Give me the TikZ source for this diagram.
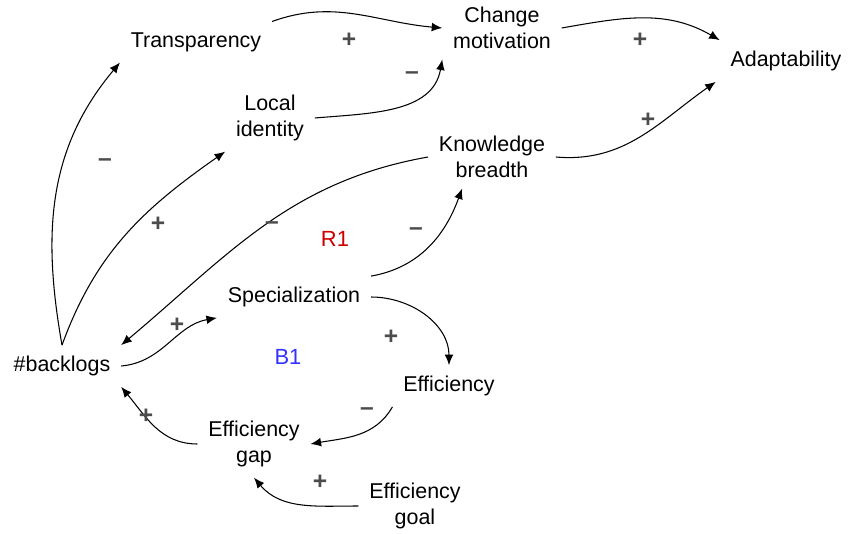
\documentclass[tikz,border=0pt]{standalone}
\usepackage{fontspec}
\setmainfont{Liberation Sans}
\usetikzlibrary{arrows.meta}
\begin{document}
\begin{tikzpicture}[x=0.02cm,y=-0.02cm,
    var/.style={align=center,font=\fontsize{12.2}{14.5}\selectfont,inner sep=6pt},
    cl/.style={-{Latex[length=6pt,width=5pt]},line width=0.6pt},
    sgn/.style={font=\fontsize{14}{14}\selectfont\bfseries,text=black!70},
    loopname/.style={font=\fontsize{12.5}{14}\selectfont}]
  \useasboundingbox (0,0) rectangle (859,534);

  \node[var] (trans) at (196,42)  {Transparency};
  \node[var] (chg)   at (502,28)  {Change\\motivation};
  \node[var] (adapt) at (786,61)  {Adaptability};
  \node[var] (local) at (270,118) {Local\\identity};
  \node[var] (know)  at (492,157) {Knowledge\\breadth};
  \node[var] (spec)  at (294,297) {Specialization};
  \node[var] (back)  at (62,366)  {\#backlogs};
  \node[var] (eff)   at (449,386) {Efficiency};
  \node[var] (gap)   at (254,444) {Efficiency\\gap};
  \node[var] (goal)  at (415,506) {Efficiency\\goal};

  \node[loopname,text=red!80!black] (r1) at (335,239) {R1};
  \node[loopname,text=blue!80] (b1) at (288,357) {B1};

  \draw[cl] (trans.north east) to[out=20,in=175] (chg.west);
  \draw[cl] (chg.east) to[out=10,in=150] (adapt.north west);
  \draw[cl] (local.east) to[out=5,in=-100] (chg.south west);
  \draw[cl] (know.east) to[out=-5,in=-145] ([xshift=-40]adapt.south);
  \draw[cl] (back.north) to[out=100,in=-130] (trans.south west);
  \draw[cl] (back.north) to[out=70,in=-145] (local.south west);
  \draw[cl] (know.west) to[out=-170,in=40] (back.north east);
  \draw[cl] (spec.north east) to[out=10,in=-110] ([xshift=-17]know.south);
  \draw[cl] (back.east) to[out=5,in=-170] (spec.south west);
  \draw[cl] (spec.east) to[out=0,in=90] (eff.north);
  \draw[cl] (eff.south west) to[out=-120,in=10] (gap.east);
  \draw[cl] (gap.west) to[out=180,in=-50] (back.south east);
  \draw[cl] (goal.west) to[out=180,in=-50] (gap.south);

  \node[sgn] (s1)  at (349,40)  {+};
  \node[sgn] (s2)  at (640,40)  {+};
  \node[sgn] (s3)  at (412,76)  {--};
  \node[sgn] (s4)  at (648,120) {+};
  \node[sgn] (s5)  at (105,163) {--};
  \node[sgn] (s6)  at (158,224) {+};
  \node[sgn] (s7)  at (272,226) {--};
  \node[sgn] (s8)  at (416,232) {--};
  \node[sgn] (s9)  at (177,325) {+};
  \node[sgn] (s10) at (391,337) {+};
  \node[sgn] (s11) at (367,412) {--};
  \node[sgn] (s12) at (146,416) {+};
  \node[sgn] (s13) at (320,482) {+};
\end{tikzpicture}
\end{document}
